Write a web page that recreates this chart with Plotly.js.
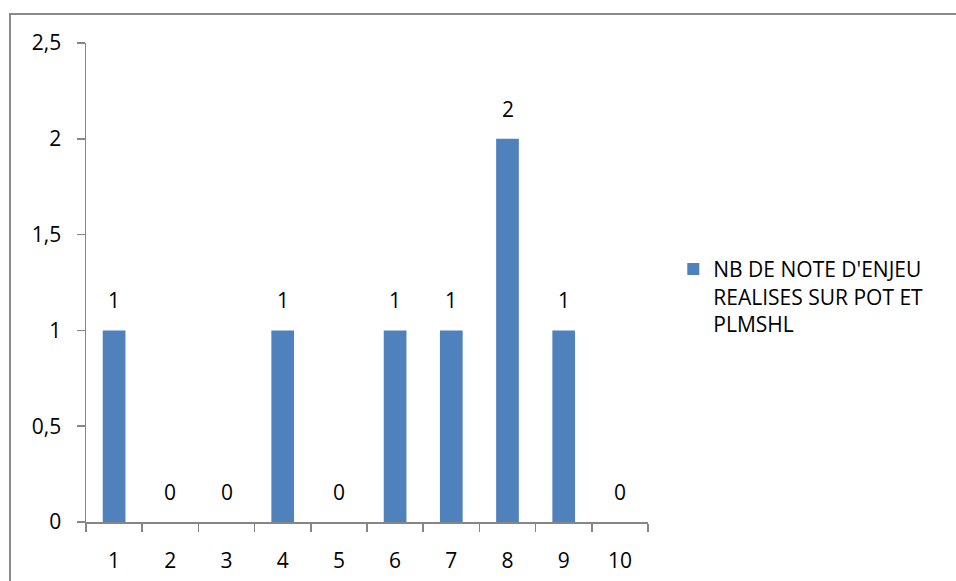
<!DOCTYPE html>
<html>
<head>
<meta charset="utf-8">
<script src="https://cdn.plot.ly/plotly-3.0.1.min.js"></script>
<style>
  html, body { margin: 0; padding: 0; width: 956px; height: 581px; overflow: hidden; background: #fff; }
  #frame { position: absolute; left: 9px; top: 13px; width: 1000px; height: 700px;
           border-left: 2px solid #8a8a8a; border-top: 2px solid #8a8a8a; box-sizing: border-box; }
  #chart { position: absolute; left: 0; top: 0; width: 956px; height: 581px; }
</style>
</head>
<body>
<div id="frame"></div>
<div id="chart"></div>
<script>
const categories = ["1", "2", "3", "4", "5", "6", "7", "8", "9", "10"];
const values = [1, 0, 0, 1, 0, 1, 1, 2, 1, 0];
const seriesName = "NB DE NOTE D'ENJEU<br>REALISES SUR POT ET<br>PLMSHL";
const yTicks = [0, 0.5, 1, 1.5, 2, 2.5];
const yTickLabels = ["0", "0,5", "1", "1,5", "2", "2,5"];

const FONT = "'Open Sans', 'Noto Sans', sans-serif";
const FS = 21;

const trace = {
  type: "bar",
  x: categories,
  y: values,
  name: seriesName,
  marker: { color: "#4F81BD" },
  showlegend: true,
  hoverinfo: "x+y"
};

// category axis positions are the category indices
const labels = categories.map((c, i) => ({
  x: i, y: values[i], xref: "x", yref: "y",
  text: String(values[i]), showarrow: false,
  yanchor: "bottom", yshift: 14,
  font: { family: FONT, size: FS, color: "#000" }
}));

const layout = {
  width: 956, height: 581,
  margin: { l: 86, r: 308, t: 43, b: 59 },
  paper_bgcolor: "rgba(0,0,0,0)",
  plot_bgcolor: "rgba(0,0,0,0)",
  font: { family: FONT, size: FS, color: "#000" },
  bargap: 0.596,
  xaxis: {
    type: "category",
    showline: true, linecolor: "#868686", linewidth: 1.5,
    ticks: "outside", ticklen: 8, tickcolor: "#868686", tickwidth: 1.5,
    tickson: "boundaries",
    ticklabelstandoff: 19,
    showgrid: false, zeroline: false,
    tickfont: { family: FONT, size: FS, color: "#000" }
  },
  yaxis: {
    range: [0, 2.5],
    tickvals: yTicks, ticktext: yTickLabels,
    showline: true, linecolor: "#868686", linewidth: 1.5,
    ticks: "outside", ticklen: 8, tickcolor: "#868686", tickwidth: 1.5,
    ticklabelstandoff: 11,
    showgrid: false, zeroline: false,
    tickfont: { family: FONT, size: FS, color: "#000" }
  },
  showlegend: true,
  legend: {
    x: 1.045, xanchor: "left", y: 0.57, yanchor: "top",
    valign: "top",
    font: { family: FONT, size: FS, color: "#000" },
    bgcolor: "rgba(0,0,0,0)"
  },
  annotations: labels
};

Plotly.newPlot("chart", [trace], layout, { displayModeBar: false, staticPlot: true });
</script>
</body>
</html>
